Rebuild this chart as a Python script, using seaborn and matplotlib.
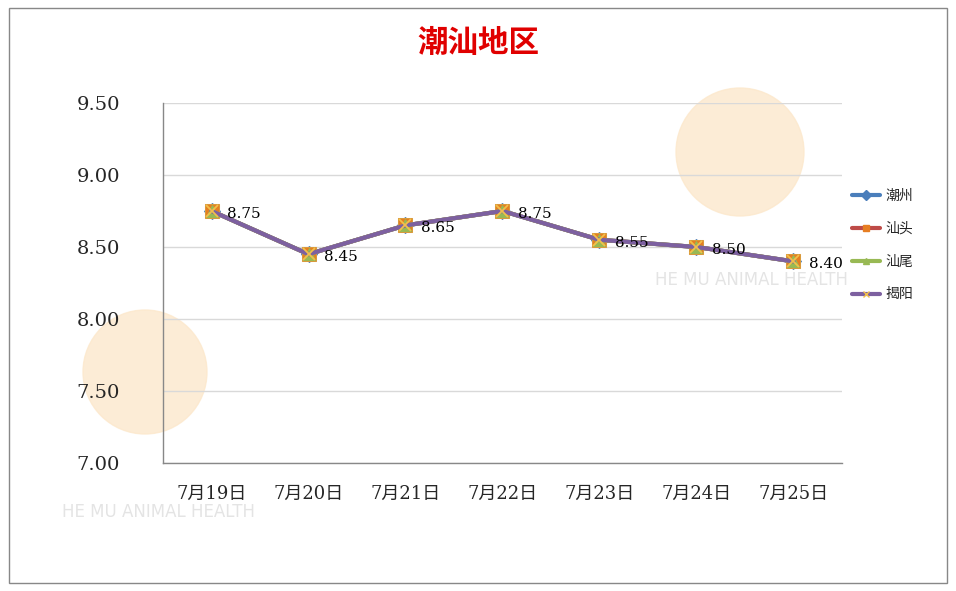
import matplotlib.pyplot as plt
import seaborn as sns
import pandas as pd
from matplotlib.patches import Rectangle, Ellipse

dates = ['7月19日', '7月20日', '7月21日', '7月22日', '7月23日', '7月24日', '7月25日']
chaozhou = [8.75, 8.45, 8.65, 8.75, 8.55, 8.50, 8.40]
shantou = [8.75, 8.45, 8.65, 8.75, 8.55, 8.50, 8.40]
shanwei = [8.75, 8.45, 8.65, 8.75, 8.55, 8.50, 8.40]
jieyang = [8.75, 8.45, 8.65, 8.75, 8.55, 8.50, 8.40]
regions = ['潮州', '汕头', '汕尾', '揭阳']
yticks = [7.00, 7.50, 8.00, 8.50, 9.00, 9.50]

df = pd.DataFrame({'日期': dates * 4,
                   '价格': chaozhou + shantou + shanwei + jieyang,
                   '地区': [r for r in regions for _ in dates]})

sns.set_style('white')
plt.rcParams['font.family'] = ['DejaVu Serif', 'Noto Sans CJK SC']

W, H = 956, 591
fig = plt.figure(figsize=(W / 100, H / 100), dpi=100)
ax = fig.add_axes([163 / W, 1 - 463 / H, 679 / W, 360 / H])
ax.set_facecolor('none')
ax.set_zorder(2)

# faint watermark decoration
for cx, cy, r in [(740, 152, 64), (145, 372, 62)]:
    fig.patches.append(Ellipse((cx / W, 1 - cy / H), 2 * r / W, 2 * r / H,
                               transform=fig.transFigure, color='#fce8cc',
                               alpha=0.8, zorder=-5))
fig.text(655 / W, 1 - 285 / H, 'HE MU ANIMAL HEALTH', fontsize=12, color='#e4e4e4',
         family='DejaVu Sans', zorder=-4)
fig.text(62 / W, 1 - 517 / H, 'HE MU ANIMAL HEALTH', fontsize=12, color='#e4e4e4',
         family='DejaVu Sans', zorder=-4)

palette = {'潮州': '#4a7ebb', '汕头': '#be4b48', '汕尾': '#98b954', '揭阳': '#7d60a0'}
markers = {'潮州': 'D', '汕头': 's', '汕尾': '^', '揭阳': 'X'}
sns.lineplot(data=df, x='日期', y='价格', hue='地区', palette=palette,
             style='地区', markers=markers, dashes=False, linewidth=3,
             markersize=8, sort=False, ax=ax, legend=False)

# Excel-like overlapping markers
mcolors = ['#4a7ebb', '#e67e22', '#98b954', '#f2c04a']
lines = ax.get_lines()
for line, fc in zip(lines, mcolors):
    line.set_markerfacecolor(fc)
    line.set_markeredgecolor(fc)
lines[1].set_markersize(10)
lines[1].set_markeredgecolor('#d99a3c')
lines[3].set_marker('x')
lines[3].set_markersize(9)
lines[3].set_markeredgewidth(1.3)

for i, v in enumerate(jieyang):
    ax.annotate(f'{v:.2f}', (i, v), xytext=(11, -2), textcoords='offset points',
                ha='left', va='center', fontsize=11, color='black')

ax.set_xlim(-0.5, len(dates) - 0.5)
ax.set_ylim(7.0, 9.5)
ax.set_yticks(yticks)
ax.set_yticklabels([f'{t:.2f}' for t in yticks], fontsize=14)
ax.set_xticks(range(len(dates)))
ax.set_xticklabels(dates, fontsize=13)
ax.set_xticks([i - 0.5 for i in range(len(dates) + 1)], minor=True)
ax.tick_params(axis='x', which='major', length=0, pad=16)
ax.tick_params(axis='x', which='minor', length=5, color='#888888', direction='out')
ax.tick_params(axis='y', length=5, color='#888888', direction='out', pad=26)
ax.yaxis.grid(True, color='#d9d9d9', linewidth=1)
ax.set_xlabel('')
ax.set_ylabel('')
for s in ['top', 'right']:
    ax.spines[s].set_visible(False)
for s in ['left', 'bottom']:
    ax.spines[s].set_color('#888888')
    ax.spines[s].set_linewidth(1)

handles = [plt.Line2D([], [], color=palette[r], linewidth=3, marker=markers[r],
                      markersize=5, markerfacecolor=fc, markeredgecolor=fc)
           for r, fc in zip(regions, mcolors)]
handles[3].set_marker('x')
fig.legend(handles, regions, loc='center left', bbox_to_anchor=(0.878, 0.585),
           frameon=False, handlelength=2.0, handletextpad=0.4, labelspacing=1.35,
           prop={'family': ['Noto Sans CJK SC'], 'size': 10})

fig.suptitle('潮汕地区', x=0.5, y=0.955, color='#e00000', fontsize=22,
             fontweight='bold', family=['Noto Sans CJK SC'])

fig.patches.append(Rectangle((0.009, 0.013), 0.982, 0.973, transform=fig.transFigure,
                             fill=False, edgecolor='#888888', linewidth=1))

fig.savefig('out.png', dpi=100)
